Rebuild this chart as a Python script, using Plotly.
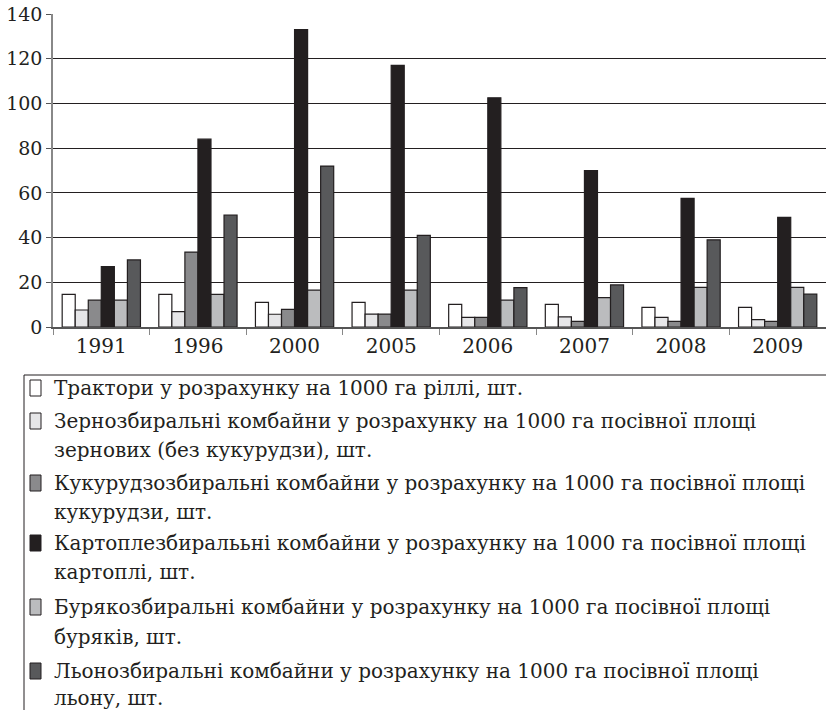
import plotly.graph_objects as go

# data
years = ['1991', '1996', '2000', '2005', '2006', '2007', '2008', '2009']

tractors   = [14.6, 14.6, 11.0, 11.0, 10.1, 10.1, 8.8, 8.8]
grain      = [7.6, 6.9, 5.7, 5.8, 4.3, 4.5, 4.3, 3.3]
corn       = [12.0, 33.5, 7.9, 5.8, 4.3, 2.5, 2.5, 2.5]
potato     = [27.0, 84.0, 133.0, 117.0, 102.5, 70.0, 57.5, 49.0]
beet       = [12.0, 14.6, 16.5, 16.5, 12.0, 13.1, 17.7, 17.7]
flax       = [30.0, 50.0, 72.0, 41.0, 17.6, 18.8, 39.0, 14.7]

names = [
	['Трактори у розрахунку на 1000 га ріллі, шт.'],
	['Зернозбиральні комбайни у розрахунку на 1000 га посівної площі', 'зернових (без кукурудзи), шт.'],
	['Кукурудзозбиральні комбайни у розрахунку на 1000 га посівної площі', 'кукурудзи, шт.'],
	['Картоплезбиралььні комбайни у розрахунку на 1000 га посівної площі', 'картоплі, шт.'],
	['Бурякозбиральні комбайни у розрахунку на 1000 га посівної площі', 'буряків, шт.'],
	['Льонозбиральні комбайни у розрахунку на 1000 га посівної площі', 'льону, шт.'],
]
series = [tractors, grain, corn, potato, beet, flax]
colors = ['#ffffff', '#e6e6e8', '#8a8a8c', '#231f20', '#bbbcbe', '#58595b']

FONT = 'DejaVu Serif, Liberation Serif, serif'
INK = '#231f20'

W, H = 826, 710
L, R, T, B = 53, 826, 14, 327   # plot area in pixels

def px(x):
	return (x - L) / (R - L)

def py(y):
	return (B - y) / (B - T)

fig = go.Figure()

for vals, nm, col in zip(series, names, colors):
	fig.add_trace(go.Bar(
		x=years,
		y=vals,
		name=' '.join(nm),
		marker=dict(color=col, line=dict(color=INK, width=1.2)),
	))

# legend drawn by hand so line spacing matches the original
# (box is open on the right and bottom, as in the cropped original)
line_y = [[388], [421, 450], [483, 512], [543, 572], [607, 637], [671, 698]]
shapes = [
	dict(type='line', xref='paper', yref='paper', x0=px(24), x1=px(826), y0=py(375), y1=py(375),
		line=dict(color=INK, width=1)),
	dict(type='line', xref='paper', yref='paper', x0=px(24), x1=px(24), y0=py(375), y1=py(710),
		line=dict(color=INK, width=1)),
]
annotations = []
for nm, col, ys in zip(names, colors, line_y):
	shapes.append(dict(type='rect', xref='paper', yref='paper',
			x0=px(30), x1=px(41), y0=py(ys[0] - 8), y1=py(ys[0] + 8),
			line=dict(color=INK, width=1), fillcolor=col))
	for txt, yy in zip(nm, ys):
		annotations.append(dict(text=txt, xref='paper', yref='paper',
			x=px(52), y=py(yy), xanchor='left', yanchor='middle',
			showarrow=False, font=dict(family=FONT, size=20, color=INK)))

fig.update_layout(
	width=W, height=H,
	margin=dict(l=L, r=W - R, t=T, b=H - B),
	plot_bgcolor='white', paper_bgcolor='white',
	barmode='group', bargap=0.19, bargroupgap=0,
	showlegend=False,
	shapes=shapes,
	annotations=annotations,
	font=dict(family=FONT, size=19, color=INK),
)

fig.update_xaxes(
	automargin=False,
	tickfont=dict(size=20),
	showline=True, linecolor='#555555', linewidth=1.5,
	ticks='outside', tickson='boundaries', ticklen=6, tickcolor='#888888',
	showgrid=False,
)
fig.update_yaxes(
	automargin=False,
	tickfont=dict(size=19),
	range=[0, 140], dtick=20,
	showline=True, linecolor='#888888', linewidth=1.5,
	ticks='outside', ticklen=5, tickcolor='#555555',
	showgrid=True, gridcolor=INK, gridwidth=1.2,
	zeroline=False,
)

# drop the default 8px page margin so the figure fills the window
fig.write_html("out.html", config={'displayModeBar': False},
	post_script="document.body.style.margin='0';")
